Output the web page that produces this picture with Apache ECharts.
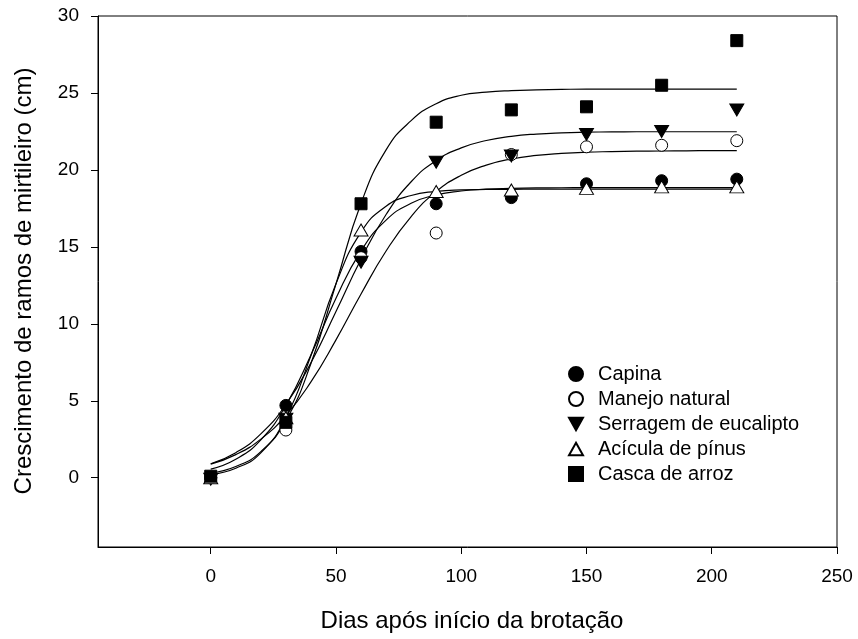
<!DOCTYPE html>
<html>
<head>
<meta charset="utf-8">
<script src="https://cdn.jsdelivr.net/npm/echarts@6/dist/echarts.min.js"></script>
<style>
html,body{margin:0;padding:0;background:#fff;}
#chart{width:858px;height:639px;}
</style>
</head>
<body>
<div id="chart"></div>
<script>
// ---- data ----
const xTicks = [0, 50, 100, 150, 200, 250];
const yTicks = [0, 5, 10, 15, 20, 25, 30];
const days = [0, 30, 60, 90, 120, 150, 180, 210];
const seriesNames = ['Capina', 'Manejo natural', 'Serragem de eucalipto', 'Acícula de pínus', 'Casca de arroz'];
const capina    = [0.0, 4.7, 14.7, 17.8, 18.2, 19.1, 19.3, 19.4];
const manejo    = [0.0, 3.1, 14.3, 15.9, 21.0, 21.5, 21.6, 21.9];
const serragem  = [-0.1, 3.8, 14.0, 20.5, 20.9, 22.3, 22.5, 23.9];
const acicula   = [0.0, 3.9, 16.1, 18.6, 18.7, 18.8, 18.9, 18.9];
const casca     = [0.1, 3.6, 17.8, 23.1, 23.9, 24.1, 25.5, 28.4];

// fitted curves
const curveDays   = [0,10,20,30,40,50,60,70,80,90,100,110,120,130,140,150,160,170,180,190,200,210];
const capinaFit   = [0.56,1.20,2.46,4.70,7.98,11.66,14.74,16.74,17.83,18.38,18.63,18.75,18.80,18.83,18.84,18.85,18.85,18.85,18.85,18.85,18.85,18.85];
const manejoFit   = [0.88,1.50,2.51,4.05,6.23,8.96,11.94,14.73,16.97,18.59,19.65,20.31,20.71,20.94,21.07,21.15,21.19,21.22,21.23,21.24,21.25,21.25];
const serragemFit = [0.91,1.63,2.85,4.76,7.47,10.80,14.20,17.10,19.23,20.61,21.43,21.91,22.18,22.33,22.41,22.45,22.47,22.48,22.48,22.48,22.48,22.48];
const aciculaFit  = [0.22,0.62,1.62,3.91,7.94,12.60,15.96,17.64,18.34,18.60,18.70,18.73,18.74,18.75,18.75,18.75,18.75,18.75,18.75,18.75,18.75,18.75];
const cascaFit    = [0.31,0.73,1.70,3.72,7.42,12.60,17.83,21.30,23.20,24.30,24.85,25.05,25.15,25.20,25.23,25.25,25.25,25.25,25.25,25.25,25.25,25.25];

const pts = (xs, ys) => xs.map((x, i) => [x, ys[i]]);
const FONT = '"Liberation Sans", Arial, sans-serif';
const downTri = 'path://M0,0 L10,0 L5,9 Z';
const upTri = 'path://M5,0 L10,9 L0,9 Z';

const markerDefs = [
  {data: capina,   symbol: 'circle', size: 12, fill: '#000'},
  {data: manejo,   symbol: 'circle', size: 12, fill: '#fff'},
  {data: serragem, symbol: downTri,  size: [14, 12], fill: '#000'},
  {data: acicula,  symbol: upTri,    size: [14, 12], fill: '#fff'},
  {data: casca,    symbol: 'rect',   size: 12, fill: '#000'}
];
const fits = [capinaFit, manejoFit, serragemFit, aciculaFit, cascaFit];

const series = [];
fits.forEach(f => {
  series.push({
    type: 'line', data: pts(curveDays, f), smooth: true, showSymbol: false,
    lineStyle: {color: '#000', width: 1.2}, silent: true, z: 2
  });
});
markerDefs.forEach((m, i) => {
  series.push({
    name: seriesNames[i], type: 'scatter', data: pts(days, m.data),
    symbol: m.symbol, symbolSize: m.size, z: 3,
    itemStyle: {color: m.fill, borderColor: '#000', borderWidth: 1, opacity: 1}
  });
});

const chart = echarts.init(document.getElementById('chart'), null, {renderer: 'canvas'});
chart.setOption({
  animation: false,
  backgroundColor: '#fff',
  grid: {left: 98, right: 21, top: 16, bottom: 92, show: true, borderColor: '#000', borderWidth: 1},
  xAxis: {
    type: 'value', min: -45, max: 250,
    axisLine: {show: true, onZero: false, lineStyle: {color: '#000', width: 1}},
    axisTick: {show: true, length: 7, customValues: xTicks, lineStyle: {color: '#000'}},
    axisLabel: {customValues: xTicks, color: '#000', fontSize: 19, fontFamily: FONT, margin: 20},
    splitLine: {show: false}
  },
  yAxis: {
    type: 'value', min: -4.5, max: 30,
    axisLine: {show: true, onZero: false, lineStyle: {color: '#000', width: 1}},
    axisTick: {show: true, length: 7, customValues: yTicks, lineStyle: {color: '#000'}},
    axisLabel: {customValues: yTicks, color: '#000', fontSize: 19, fontFamily: FONT, margin: 19},
    splitLine: {show: false}
  },
  legend: {
    orient: 'vertical', left: 568, top: 364, padding: 0,
    data: seriesNames, itemWidth: 14, itemHeight: 14, itemGap: 5,
    textStyle: {fontSize: 20, lineHeight: 20, fontFamily: FONT, color: '#000', padding: [0, 0, 0, 10]}
  },
  graphic: [
    {type: 'text', x: 472, y: 621,
     style: {text: 'Dias após início da brotação', font: '24px ' + FONT, fill: '#000', textAlign: 'center', textVerticalAlign: 'middle'}},
    {type: 'text', x: 24, y: 281, rotation: Math.PI / 2,
     style: {text: 'Crescimento de ramos de mirtileiro (cm)', font: '24px ' + FONT, fill: '#000', textAlign: 'center', textVerticalAlign: 'middle'}}
  ],
  series: series
});
</script>
</body>
</html>
